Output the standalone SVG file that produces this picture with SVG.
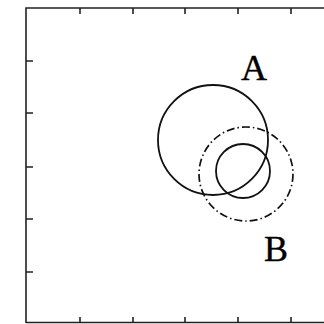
<svg xmlns="http://www.w3.org/2000/svg" width="324" height="324" viewBox="0 0 324 324">
<style>
.frame{fill:none;stroke:#222;stroke-width:1.6}
.tick{stroke:#222;stroke-width:1.6}
.solid{fill:none;stroke:#111;stroke-width:1.8}
.dashdot{fill:none;stroke:#111;stroke-width:1.7;stroke-dasharray:8 3 1.5 3}
.lbl{font-family:"Liberation Serif","Times New Roman",serif;font-size:36px;fill:#000;stroke:#000;stroke-width:0.4}
</style>
<rect width="324" height="324" fill="#fff"/>
<g id="axes">
<path class="frame" d="M26,323 V8 H324"/>
<path class="frame" d="M26,322.5 H324"/>
<path class="tick" d="M80,8 v6 M133,8 v6 M185,8 v6 M238,8 v6 M291,8 v6 M80,323 v-6 M133,323 v-6 M185,323 v-6 M238,323 v-6 M291,323 v-6 M26,61 h7 M26,113 h7 M26,167 h7 M26,219 h7 M26,272 h7"/>
</g>
<g id="circleA"><circle class="solid" cx="213" cy="140" r="55"/></g>
<g id="circleB"><circle class="dashdot" cx="246" cy="174" r="47"/></g>
<g id="circleInner"><circle class="solid" cx="243" cy="171" r="27"/></g>
<g id="labelA"><text class="lbl" x="241" y="80">A</text></g>
<g id="labelB"><text class="lbl" x="264" y="261">B</text></g>
</svg>
